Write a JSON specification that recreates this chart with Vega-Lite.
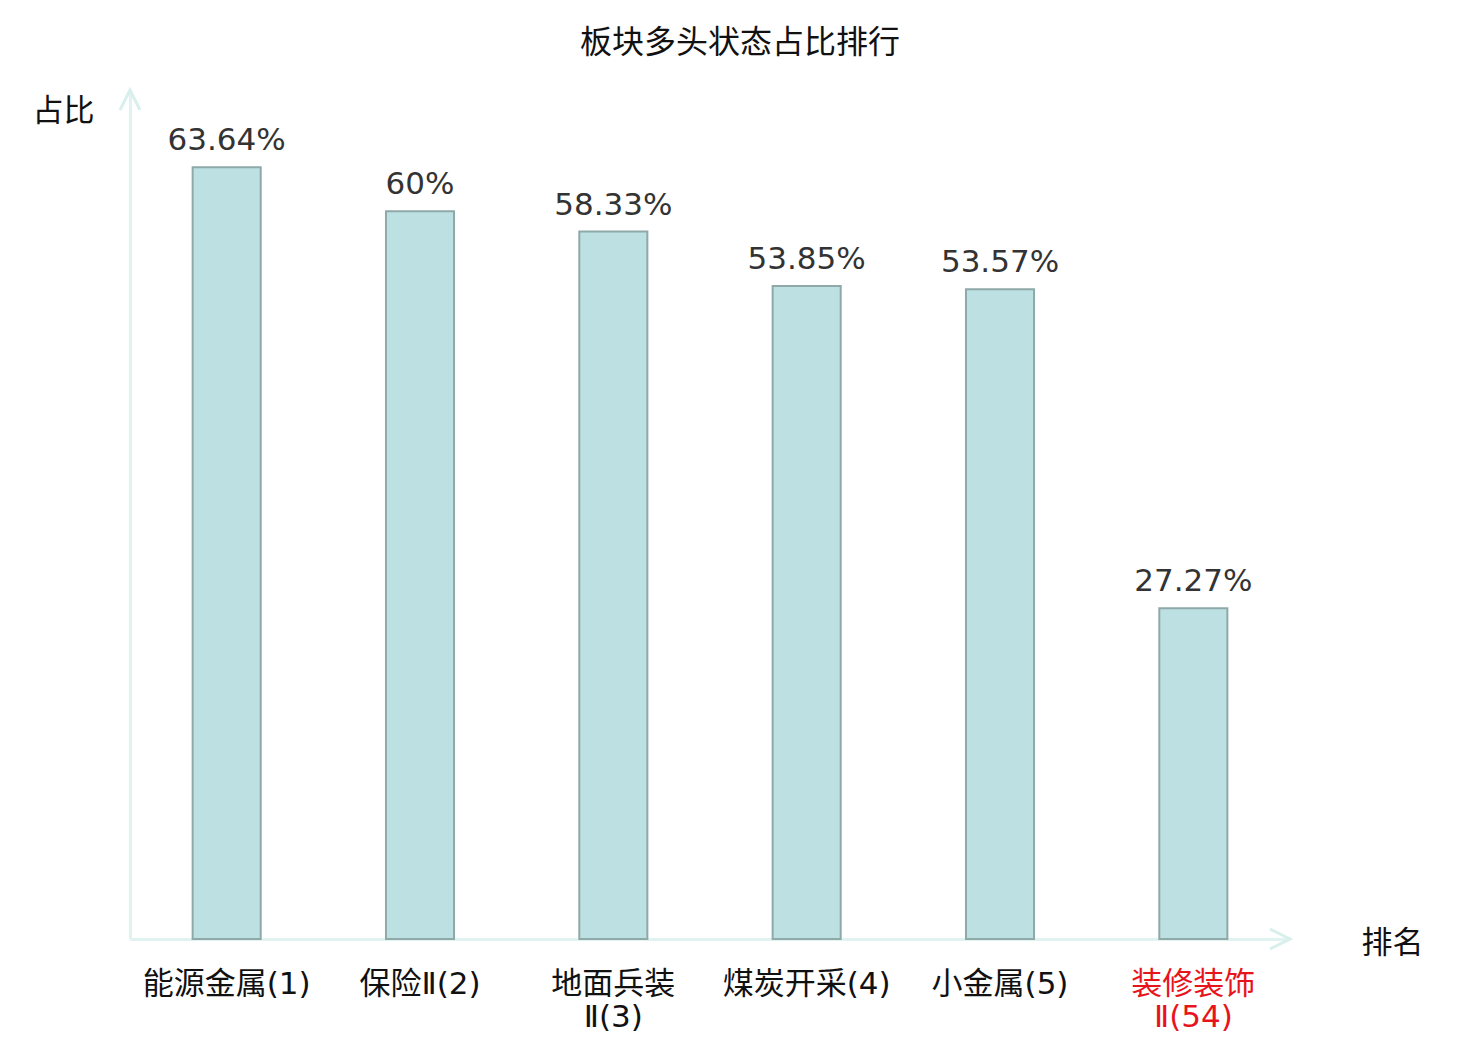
{
  "$schema": "https://vega.github.io/schema/vega-lite/v6.json",
  "width": 1160,
  "height": 849,
  "autosize": "none",
  "padding": {"left": 130, "top": 90, "right": 190, "bottom": 101},
  "background": "white",
  "title": {
    "text": "板块多头状态占比排行",
    "anchor": "middle",
    "fontSize": 32,
    "fontWeight": "normal",
    "color": "#111",
    "dx": 30,
    "offset": 24
  },
  "data": {
    "values": [
      {"name": "能源金属(1)", "ratio": 0.6364},
      {"name": "保险Ⅱ(2)", "ratio": 0.6},
      {"name": "地面兵装\nⅡ(3)", "ratio": 0.5833},
      {"name": "煤炭开采(4)", "ratio": 0.5385},
      {"name": "小金属(5)", "ratio": 0.5357},
      {"name": "装修装饰\nⅡ(54)", "ratio": 0.2727}
    ]
  },
  "encoding": {
    "x": {
      "field": "name",
      "type": "nominal",
      "sort": null,
      "scale": {"paddingInner": 0.648, "paddingOuter": 0.324},
      "axis": {
        "title": "排名",
        "titleAngle": 0,
        "titleX": 1262,
        "titleY": 4,
        "titleAlign": "center",
        "titleBaseline": "middle",
        "titleFontSize": 31,
        "titleFontWeight": "normal",
        "titleColor": "#111",
        "labelAngle": 0,
        "labelFontSize": 31,
        "labelPadding": 30,
        "labelLineHeight": 33,
        "labelExpr": "split(datum.label, '\\n')",
        "labelColor": {"condition": {"test": "indexof(datum.value, '装修') >= 0", "value": "#e8141c"}, "value": "#111"},
        "ticks": false,
        "domainColor": "#e0f3f1",
        "domainWidth": 3
      }
    },
    "y": {
      "field": "ratio",
      "type": "quantitative",
      "scale": {"domain": [0, 0.7]},
      "axis": {
        "title": "占比",
        "titleAngle": 0,
        "titleX": -67,
        "titleY": 21,
        "titleAlign": "center",
        "titleBaseline": "middle",
        "titleFontSize": 31,
        "titleFontWeight": "normal",
        "titleColor": "#111",
        "labels": false,
        "ticks": false,
        "grid": false,
        "domainColor": "#e0f3f1",
        "domainWidth": 3
      }
    }
  },
  "layer": [
    {
      "mark": {"type": "bar", "fill": "#bde0e3", "stroke": "#8ea9a8", "strokeWidth": 2}
    },
    {
      "mark": {"type": "text", "baseline": "bottom", "dy": -10, "fontSize": 31, "color": "#333"},
      "encoding": {"text": {"field": "ratio", "type": "quantitative", "format": ".2~%"}}
    },
    {
      "data": {"values": [{"axis": "y", "ratio": 0.7}]},
      "mark": {"type": "point", "shape": "M -1 2 L 0 0 L 1 2", "size": 400, "filled": false, "color": "#d9efec", "strokeWidth": 3, "opacity": 1},
      "encoding": {"x": {"value": 0}, "y": {"field": "ratio", "type": "quantitative"}}
    },
    {
      "data": {"values": [{"axis": "x", "ratio": 0}]},
      "mark": {"type": "point", "shape": "M -2 -1 L 0 0 L -2 1", "size": 400, "filled": false, "color": "#d9efec", "strokeWidth": 3, "opacity": 1},
      "encoding": {"x": {"value": "width"}, "y": {"field": "ratio", "type": "quantitative"}}
    }
  ],
  "config": {
    "font": "DejaVu Sans, Noto Sans CJK SC",
    "view": {"stroke": null}
  }
}
